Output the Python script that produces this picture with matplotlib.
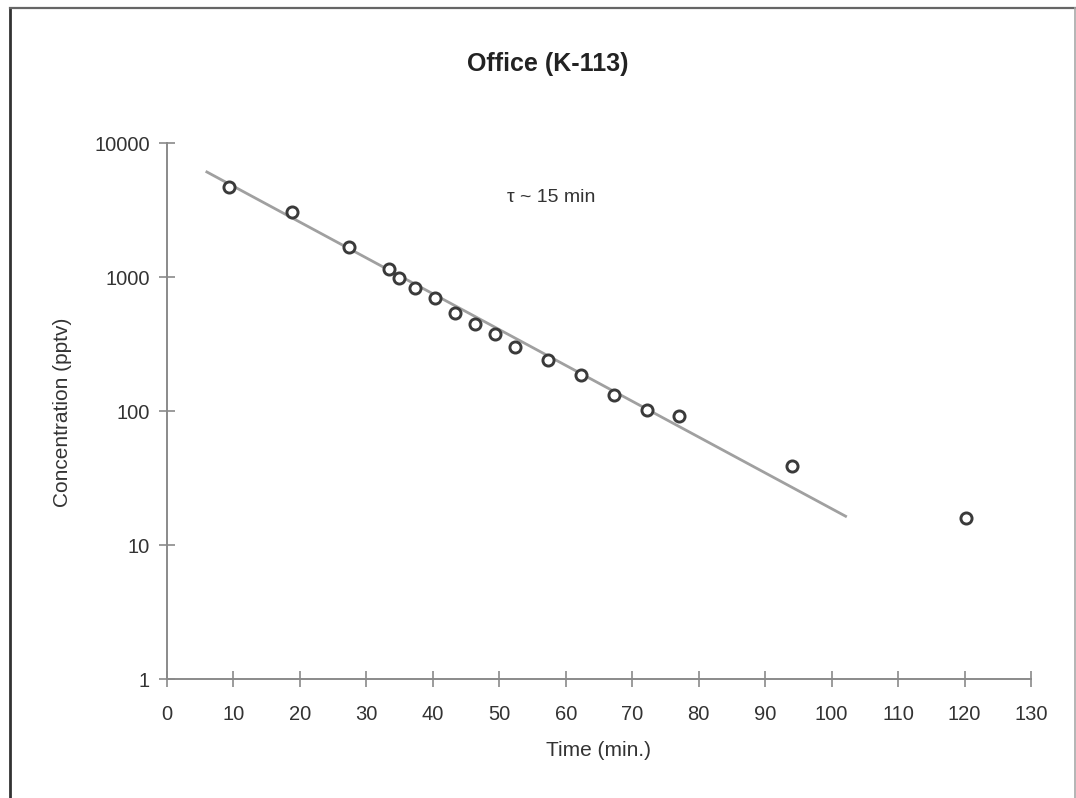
import matplotlib
matplotlib.use("Agg")
import matplotlib.pyplot as plt
from matplotlib.lines import Line2D

plt.rcParams['font.family'] = ['Liberation Sans', 'DejaVu Sans']

# Measured concentrations after release
time_min = [9.3, 18.8, 27.4, 33.4, 34.9, 37.3, 40.3, 43.3, 46.3, 49.3,
            52.3, 57.3, 62.3, 67.2, 72.2, 77.1, 94.1, 120.2]
conc_pptv = [4700, 3050, 1680, 1150, 985, 830, 700, 540, 445, 375,
             300, 240, 186, 132, 102, 92, 39, 15.9]

# Exponential decay fit (endpoints of the fitted line)
fit_time = [6.0, 102.1]
fit_conc = [6080, 16.4]

xticks = list(range(0, 131, 10))
yticks = [1, 10, 100, 1000, 10000]

fig = plt.figure(figsize=(10.76, 7.98), dpi=100)
ax = fig.add_axes([0.1552, 0.1491, 0.803, 0.6717])

axis_col = '#8a8a8a'
text_col = '#333333'

ax.plot(fit_time, fit_conc, color='#a0a0a0', lw=2.0, zorder=2)
ax.plot(time_min, conc_pptv, linestyle='none', marker='o', ms=8,
        mfc='white', mec='#3a3a3a', mew=2.1, zorder=3)

ax.set_yscale('log')
ax.set_xlim(0, 130)
ax.set_ylim(1, 10000)
ax.set_xticks(xticks)
ax.set_xticklabels([str(t) for t in xticks])
ax.set_yticks(yticks)
ax.set_yticklabels([str(t) for t in yticks])
ax.yaxis.set_minor_locator(matplotlib.ticker.NullLocator())

for side in ('top', 'right'):
    ax.spines[side].set_visible(False)
for side in ('left', 'bottom'):
    ax.spines[side].set_color(axis_col)
    ax.spines[side].set_linewidth(1.4)

ax.tick_params(axis='both', direction='inout', length=11, width=1.2,
               color=axis_col, labelsize=14.5, labelcolor=text_col)
ax.tick_params(axis='x', pad=13)
ax.tick_params(axis='y', pad=7)

ax.set_xlabel('Time (min.)', fontsize=15, color=text_col)
ax.xaxis.set_label_coords(598 / 1076, 1 - 751 / 798, transform=fig.transFigure)
ax.xaxis.label.set_va('center')
ax.set_ylabel('Concentration (pptv)', fontsize=15, color=text_col)
ax.yaxis.set_label_coords(62 / 1076, 1 - 412 / 798, transform=fig.transFigure)
ax.yaxis.label.set_va('center')

ax.text(57.8, 3950, '\u03c4 ~ 15 min', fontsize=14, color=text_col,
        ha='center', va='center')

fig.text(548 / 1076, 1 - 64 / 798, 'Office (K-113)', fontsize=18,
         fontweight='bold', color='#222222', ha='center', va='center')

# Frame around the whole chart
fig.add_artist(Line2D([10 / 1076, 10 / 1076], [0, 1 - 8 / 798],
                      transform=fig.transFigure, color='#333333', lw=2.0))
fig.add_artist(Line2D([10 / 1076, 1075 / 1076], [1 - 8 / 798, 1 - 8 / 798],
                      transform=fig.transFigure, color='#666666', lw=1.6))
fig.add_artist(Line2D([1075 / 1076, 1075 / 1076], [0, 1 - 8 / 798],
                      transform=fig.transFigure, color='#a8a8a8', lw=1.2))

fig.savefig('out.png', dpi=100, facecolor='white')
